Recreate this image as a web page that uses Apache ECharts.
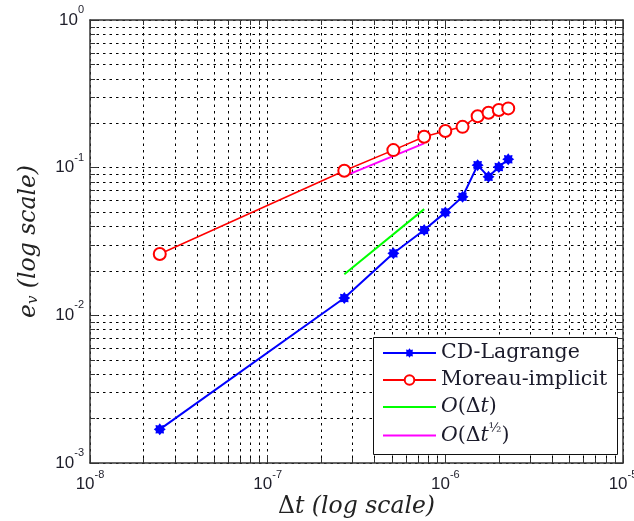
<!DOCTYPE html>
<html>
<head>
<meta charset="utf-8">
<script src="https://cdn.jsdelivr.net/npm/echarts@6/dist/echarts.min.js"></script>
<style>
  html, body { margin: 0; padding: 0; background: #fff; }
  #chart { width: 634px; height: 521px; }
</style>
</head>
<body>
<div id="chart"></div>
<script>
// Time steps Δt shared by both schemes
const dtValues = [2.47e-8, 2.7e-7, 5.1e-7, 7.6e-7, 1.0e-6, 1.25e-6, 1.52e-6, 1.75e-6, 2.0e-6, 2.26e-6];
// Velocity error e_v for each scheme
const cdLagrange = [1.69e-3, 0.0131, 0.0263, 0.0378, 0.0498, 0.0635, 0.104, 0.0867, 0.101, 0.114];
const moreauImplicit = [0.0260, 0.0953, 0.1315, 0.162, 0.177, 0.189, 0.223, 0.2355, 0.2455, 0.252];
// Reference slopes
const slopeOneX = [2.7e-7, 7.6e-7];
const slopeOneY = [0.019, 0.0524];
const slopeHalfX = [2.7e-7, 7.6e-7];
const slopeHalfY = [0.0877, 0.146];
// Axis ranges (decades)
const xRange = [1e-8, 1e-5];
const yRange = [1e-3, 1];

const pairs = (xs, ys) => xs.map((x, i) => [x, ys[i]]);

// eight-armed asterisk marker
function starPath(n, rOut, rIn) {
  const pts = [];
  for (let k = 0; k < 2 * n; k++) {
    const a = Math.PI * k / n - Math.PI / 2;
    const r = k % 2 === 0 ? rOut : rIn;
    pts.push((Math.cos(a) * r).toFixed(3) + ' ' + (Math.sin(a) * r).toFixed(3));
  }
  return 'path://M' + pts.join(' L') + ' Z';
}
const asterisk = starPath(8, 10, 7);

const tickFont = '"Liberation Sans", Arial, sans-serif';
const serif = '"DejaVu Serif", serif';

function powLabel(v) {
  const e = Math.round(Math.log10(v));
  return '{b|10}{e|' + e + '}';
}
const powRich = {
  b: { fontFamily: tickFont, fontSize: 17, color: '#1e1e2a', lineHeight: 17 },
  e: { fontFamily: tickFont, fontSize: 11, color: '#1e1e2a', lineHeight: 11, padding: [0, 0, 20, 0] }
};

const gridDash = { color: '#000', width: 1, type: [2.5, 4] };

function mainAxis(range, isX) {
  return {
    type: 'log', logBase: 10, min: range[0], max: range[1],
    position: isX ? 'bottom' : 'left',
    axisLine: { show: true, lineStyle: { color: '#333', width: 1.5 } },
    axisTick: { show: true, inside: true, length: 8, lineStyle: { color: '#333' } },
    minorTick: { show: true, splitNumber: 9, length: 5, lineStyle: { color: '#333' } },
    splitLine: { show: true, lineStyle: gridDash },
    minorSplitLine: { show: true, lineStyle: gridDash },
    axisLabel: {
      formatter: powLabel, rich: powRich,
      margin: isX ? 13 : 6
    }
  };
}
function mirrorAxis(range, isX) {
  return {
    type: 'log', logBase: 10, min: range[0], max: range[1],
    position: isX ? 'top' : 'right',
    axisLine: { show: true, lineStyle: { color: '#333', width: 1.5 } },
    axisTick: { show: true, inside: true, length: 8, lineStyle: { color: '#333' } },
    minorTick: { show: true, splitNumber: 9, length: 5, lineStyle: { color: '#333' } },
    splitLine: { show: false },
    axisLabel: { show: false }
  };
}

const xMain = mainAxis(xRange, true);
xMain.name = '{d|Δ}{i|t (log scale)}';
xMain.nameLocation = 'middle';
xMain.nameGap = 32;
xMain.nameMoveOverlap = false;
xMain.nameTextStyle = {
  rich: {
    d: { fontFamily: serif, fontSize: 23.5, color: '#222' },
    i: { fontFamily: serif, fontStyle: 'italic', fontSize: 23.5, color: '#222' }
  }
};
const yMain = mainAxis(yRange, false);
yMain.name = '{i|e}{s|v}{i| (log scale)}';
yMain.nameLocation = 'middle';
yMain.nameGap = 50;
yMain.nameMoveOverlap = false;
yMain.nameTextStyle = {
  rich: {
    i: { fontFamily: serif, fontStyle: 'italic', fontSize: 23.5, color: '#222', lineHeight: 23 },
    s: { fontFamily: serif, fontStyle: 'italic', fontSize: 15, color: '#222', lineHeight: 15, padding: [10, 0, 0, 0] }
  }
};

const legendNames = {
  'CD-Lagrange': 'CD-Lagrange',
  'Moreau-implicit': 'Moreau-implicit',
  'O(Δt)': '{o|O}{n|(Δ}{o|t}{n|)}',
  'O(Δt^1/2)': '{o|O}{n|(Δ}{o|t}{h|½}{n|)}'
};

const option = {
  animation: false,
  backgroundColor: '#fff',
  grid: { left: 90, right: 11, top: 20, bottom: 58, containLabel: false, outerBoundsMode: 'none' },
  xAxis: [xMain, mirrorAxis(xRange, true)],
  yAxis: [yMain, mirrorAxis(yRange, false)],
  graphic: [{
    type: 'rect', left: 373, top: 337, z: 3,
    shape: { width: 244, height: 117 },
    style: { fill: '#fff', stroke: '#111', lineWidth: 1 }
  }],
  legend: {
    orient: 'vertical', left: 373, top: 337, z: 5,
    padding: [4, 0, 0, 9],
    itemWidth: 53, itemHeight: 12, itemGap: 3,
    data: [
      { name: 'CD-Lagrange' },
      { name: 'Moreau-implicit' },
      { name: 'O(Δt)', itemStyle: { opacity: 0 } },
      { name: 'O(Δt^1/2)', itemStyle: { opacity: 0 } }
    ],
    formatter: name => legendNames[name],
    textStyle: {
      fontFamily: serif, fontSize: 20.5, color: '#1a1a2a', lineHeight: 24,
      rich: {
        o: { fontFamily: serif, fontStyle: 'italic', fontSize: 20.5, color: '#1a1a2a', lineHeight: 24 },
        n: { fontFamily: serif, fontSize: 20.5, color: '#1a1a2a', lineHeight: 24 },
        h: { fontFamily: serif, fontSize: 13, color: '#1a1a2a', lineHeight: 13, padding: [0, 0, 14, 0] }
      }
    }
  },
  series: [
    {
      name: 'CD-Lagrange', type: 'line', z: 4,
      data: pairs(dtValues, cdLagrange),
      symbol: asterisk, symbolSize: 12,
      lineStyle: { color: '#0000ff', width: 2 },
      itemStyle: { color: '#0000ff' }
    },
    {
      name: 'Moreau-implicit', type: 'line', z: 4,
      data: pairs(dtValues, moreauImplicit),
      symbol: 'emptyCircle', symbolSize: 12,
      lineStyle: { color: '#ff0000', width: 1.5 },
      itemStyle: { color: '#ff0000', borderWidth: 1.5 }
    },
    {
      name: 'O(Δt)', type: 'line', z: 3,
      data: pairs(slopeOneX, slopeOneY),
      symbol: 'none',
      lineStyle: { color: '#00ff00', width: 2 },
      itemStyle: { color: '#00ff00' }
    },
    {
      name: 'O(Δt^1/2)', type: 'line', z: 3,
      data: pairs(slopeHalfX, slopeHalfY),
      symbol: 'none',
      lineStyle: { color: '#ff00ff', width: 2 },
      itemStyle: { color: '#ff00ff' }
    }
  ]
};

const chart = echarts.init(document.getElementById('chart'), null, { renderer: 'canvas' });
chart.setOption(option);
</script>
</body>
</html>
